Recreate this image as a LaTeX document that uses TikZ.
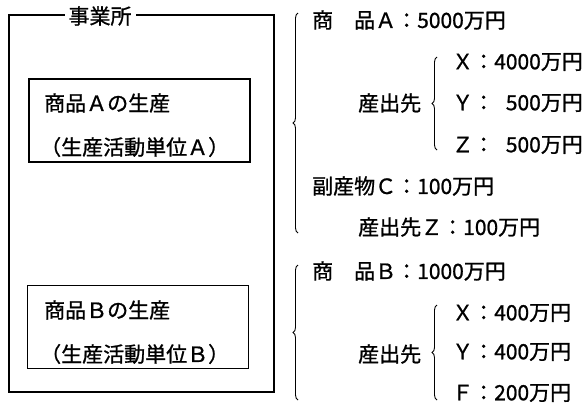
\documentclass[tikz,border=0pt]{standalone}
\usepackage{fontspec}
\newfontfamily\jp[FakeBold=1]{Noto Sans CJK JP}
\usetikzlibrary{decorations.pathreplacing}

\begin{document}
\begin{tikzpicture}
  [x=1pt,y=-1pt,every node/.style={inner sep=0pt,font=\jp\fontsize{21}{21}\selectfont}]

  \tikzstyle{frame} = [draw,line width=1.5pt]
  \tikzstyle{unitbox} = [draw,line width=1.1pt,minimum width=221pt,minimum height=83pt]
  \tikzstyle{item} = [anchor=west]
  \tikzstyle{curly} = [draw,line width=0.9pt,decorate,decoration={brace,amplitude=5pt}]

  \useasboundingbox (0,0) rectangle (586,408);

  \node[frame,minimum width=265pt,minimum height=377pt] (office) at (141.5,203.5) {};
  \node[fill=white,inner xsep=4pt] (officetitle) at (100,16) {事業所};

  \node[unitbox] (unitA) at (139.5,120.5) {};
  \node[unitbox] (unitB) at (138,327) {};

  \node[item] (prodA) at (44,103) {商品Ａの生産};
  \node[item] (actA)  at (40,147) {（生産活動単位Ａ）};
  \node[item] (prodB) at (44,310) {商品Ｂの生産};
  \node[item] (actB)  at (40,354) {（生産活動単位Ｂ）};

  \node[item] (goodsA) at (312,20)  {商　品Ａ：5000万円};
  \node[item] (destA)  at (358,103) {産出先};
  \node[item] (destAX) at (452,62)  {Ｘ：4000万円};
  \node[item] (destAY) at (452,103) {Ｙ：\hphantom{0}500万円};
  \node[item] (destAZ) at (452,145) {Ｚ：\hphantom{0}500万円};
  \node[item] (byC)    at (312,186) {副産物Ｃ：100万円};
  \node[item] (destC)  at (358,227) {産出先Ｚ：100万円};
  \node[item] (goodsB) at (312,271) {商　品Ｂ：1000万円};
  \node[item] (destB)  at (358,354) {産出先};
  \node[item] (destBX) at (452,313) {Ｘ：400万円};
  \node[item] (destBY) at (452,352) {Ｙ：400万円};
  \node[item] (destBF) at (452,393) {Ｆ：200万円};

  \coordinate (braceAtop) at (298,13);
  \coordinate (braceAbot) at (298,233);
  \coordinate (braceAXtop) at (437,57);
  \coordinate (braceAXbot) at (437,150);
  \coordinate (braceBtop) at (298,265);
  \coordinate (braceBbot) at (298,400);
  \coordinate (braceBXtop) at (437,305);
  \coordinate (braceBXbot) at (437,400);

  \draw[curly] (braceAbot) -- (braceAtop);
  \draw[curly] (braceAXbot) -- (braceAXtop);
  \draw[curly] (braceBbot) -- (braceBtop);
  \draw[curly] (braceBXbot) -- (braceBXtop);
\end{tikzpicture}
\end{document}
